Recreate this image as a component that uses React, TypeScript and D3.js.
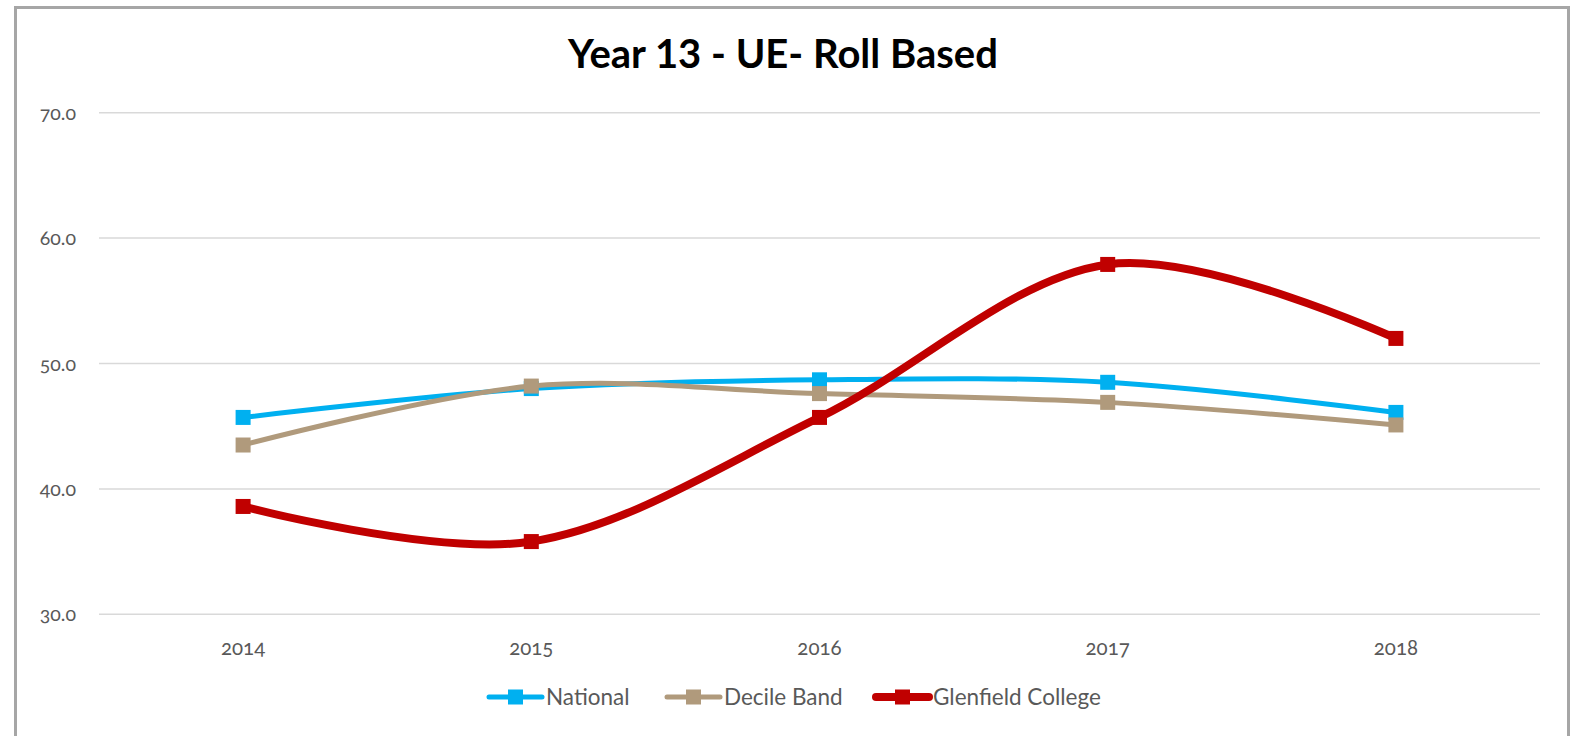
import React from "react";
import * as d3 from "d3";

const years = ["2014", "2015", "2016", "2017", "2018"];
const national = [45.7, 48.0, 48.7, 48.5, 46.1];
const decileBand = [43.5, 48.2, 47.6, 46.9, 45.1];
const glenfield = [38.6, 35.8, 45.7, 57.9, 52.0];
const yTicks = [30, 40, 50, 60, 70];
const title = "Year 13 - UE- Roll Based";

const seriesNames = ["National", "Decile Band", "Glenfield College"];
const seriesColors = ["#00B0F0", "#B09A7C", "#C00000"];
const seriesWidths = [5, 5, 8];

const W = 1586;
const H = 736;
const plotLeft = 99;
const plotRight = 1540;
const plotTop = 112.7;
const plotBottom = 614.3;

export default function App() {
  const x = d3.scaleBand<string>().domain(years).range([plotLeft, plotRight]);
  const y = d3.scaleLinear().domain([30, 70]).range([plotBottom, plotTop]);
  const cx = (yr: string) => (x(yr) as number) + x.bandwidth() / 2;
  const line = d3
    .line<number>()
    .x((_, i) => cx(years[i]))
    .y((d) => y(d))
    .curve(d3.curveCardinal.tension(0));
  const data = [national, decileBand, glenfield];
  const fmt = d3.format(".1f");
  const tickFont = "Lato, 'Open Sans', sans-serif";
  const legendX = [487, 665, 874];
  const legendY = 697;
  const ms = 15;

  return (
    <svg
      width={W}
      height={H}
      style={{ position: "absolute", left: 0, top: 0, background: "#fff" }}
    >
      <rect x={0} y={0} width={W} height={H} fill="#fff" />
      <rect
        x={15.5}
        y={7.5}
        width={1553}
        height={760}
        fill="#fff"
        stroke="#A6A6A6"
        strokeWidth={3}
      />
      <text
        x={783}
        y={68}
        textAnchor="middle"
        fontFamily="Lato, 'Open Sans', sans-serif"
        fontWeight={700}
        fontSize={40}
        fill="#000"
      >
        {title}
      </text>
      {yTicks.map((t) => (
        <g key={t}>
          <line
            x1={plotLeft}
            x2={plotRight}
            y1={y(t)}
            y2={y(t)}
            stroke="#D9D9D9"
            strokeWidth={1.5}
          />
          <text
            x={76}
            y={y(t) + 7}
            textAnchor="end"
            fontFamily={tickFont}
            fontSize={19.5}
            fill="#595959"
            style={{ fontVariantNumeric: "oldstyle-nums" }}
          >
            {fmt(t)}
          </text>
        </g>
      ))}
      {years.map((yr) => (
        <text
          key={yr}
          x={cx(yr)}
          y={plotBottom + 41}
          textAnchor="middle"
          fontFamily={tickFont}
          fontSize={20.5}
          fill="#595959"
          style={{ fontVariantNumeric: "oldstyle-nums" }}
        >
          {yr}
        </text>
      ))}
      {data.map((vals, si) => (
        <g key={si}>
          <path
            d={line(vals) as string}
            fill="none"
            stroke={seriesColors[si]}
            strokeWidth={seriesWidths[si]}
            strokeLinecap="round"
            strokeLinejoin="round"
          />
          {vals.map((v, i) => (
            <rect
              key={i}
              x={cx(years[i]) - ms / 2}
              y={y(v) - ms / 2}
              width={ms}
              height={ms}
              fill={seriesColors[si]}
            />
          ))}
        </g>
      ))}
      {seriesNames.map((name, si) => (
        <g key={name} transform={`translate(${legendX[si]},${legendY})`}>
          <line
            x1={2}
            x2={55}
            y1={0}
            y2={0}
            stroke={seriesColors[si]}
            strokeWidth={seriesWidths[si]}
            strokeLinecap="round"
          />
          <rect x={28.5 - ms / 2} y={-ms / 2} width={ms} height={ms} fill={seriesColors[si]} />
          <text
            x={59}
            y={7.5}
            fontFamily={tickFont}
            fontSize={22.5}
            fill="#595959"
          >
            {name}
          </text>
        </g>
      ))}
    </svg>
  );
}
